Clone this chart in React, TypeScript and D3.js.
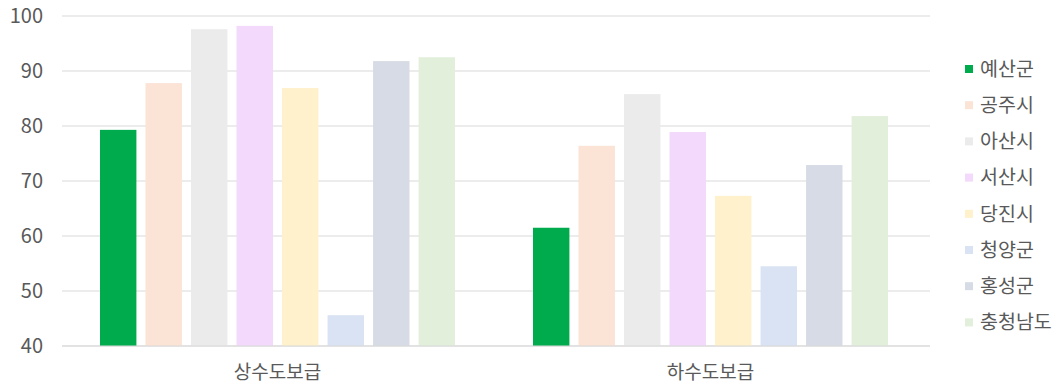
import React from "react";
import * as d3 from "d3";

const categories = ["상수도보급", "하수도보급"];
const seriesNames = ["예산군", "공주시", "아산시", "서산시", "당진시", "청양군", "홍성군", "충청남도"];
const seriesColors = ["#00AB4E", "#FBE3D6", "#EBEBEB", "#F3D9FB", "#FFF1CC", "#D9E3F3", "#D6DBE5", "#E2EFDA"];
const values: number[][] = [
  [79.3, 61.5],
  [87.8, 76.4],
  [97.6, 85.8],
  [98.2, 78.9],
  [86.9, 67.3],
  [45.6, 54.5],
  [91.8, 72.9],
  [92.5, 81.8],
];
const yTicks = [40, 50, 60, 70, 80, 90, 100];

const W = 1053;
const H = 389;
const gridLeft = 62;
const gridRight = 930;
const bandLeft = 61;
const bandRight = 927;
const top = 16;
const bottom = 346;
const font = "'Noto Sans CJK KR', 'Noto Sans', sans-serif";

export default function App() {
  const y = d3.scaleLinear().domain([40, 100]).range([bottom, top]);
  const x0 = d3.scaleBand().domain(categories).range([bandLeft, bandRight]).paddingInner(0).paddingOuter(0);
  const bandW = x0.bandwidth();
  const groupW = 355;
  const x1 = d3
    .scaleBand()
    .domain(seriesNames)
    .range([(bandW - groupW) / 2, (bandW + groupW) / 2])
    .paddingInner(0.2)
    .paddingOuter(0);

  return (
    <svg width={W} height={H} style={{ position: "absolute", left: 0, top: 0 }}>
      <rect width={W} height={H} fill="#fff" />
      {yTicks.map((t) => (
        <g key={t}>
          <line x1={gridLeft} x2={gridRight} y1={y(t)} y2={y(t)} stroke="#d9d9d9" strokeWidth={1} />
          <text x={43} y={y(t)} dy="0.35em" textAnchor="end" fontFamily={font} fontSize={20} fill="#595959">
            {t}
          </text>
        </g>
      ))}
      {seriesNames.map((s, i) =>
        categories.map((c, j) => (
          <rect
            key={s + c}
            x={(x0(c) as number) + (x1(s) as number)}
            y={y(values[i][j])}
            width={x1.bandwidth()}
            height={bottom - y(values[i][j])}
            fill={seriesColors[i]}
          />
        ))
      )}
      <line x1={gridLeft} x2={gridRight} y1={bottom} y2={bottom} stroke="#d9d9d9" strokeWidth={1} />
      {categories.map((c) => (
        <text
          key={c}
          x={(x0(c) as number) + bandW / 2}
          y={372}
          dy="0.35em"
          textAnchor="middle"
          fontFamily={font}
          fontSize={19}
          fill="#595959"
        >
          {c}
        </text>
      ))}
      {seriesNames.map((s, i) => (
        <g key={s} transform={`translate(965, ${69 + i * 36.2})`}>
          <rect x={0} y={-4} width={8} height={8} fill={seriesColors[i]} />
          <text x={15} y={0} dy="0.35em" fontFamily={font} fontSize={19.5} fill="#595959">
            {s}
          </text>
        </g>
      ))}
    </svg>
  );
}
